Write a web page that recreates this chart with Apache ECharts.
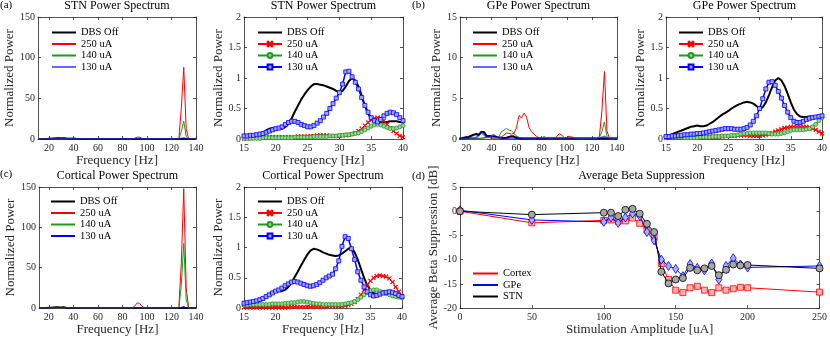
<!DOCTYPE html>
<html>
<head>
<meta charset="utf-8">
<script src="https://cdn.jsdelivr.net/npm/echarts@6/dist/echarts.min.js"></script>
<style>
  html, body { margin: 0; padding: 0; background: #fff; }
  #chart { width: 830px; height: 337px; }
</style>
</head>
<body>
<div id="chart"></div>
<script>
// ---------- data ----------
// wide spectra, 12..140 Hz every 2 Hz
var wideFreq = [12, 14, 16, 18, 20, 22, 24, 26, 28, 30, 32, 34, 36, 38, 40, 42, 44, 46, 48, 50,
  52, 54, 56, 58, 60, 62, 64, 66, 68, 70, 72, 74, 76, 78, 80, 82, 84, 86, 88, 90,
  92, 94, 96, 98, 100, 102, 104, 106, 108, 110, 112, 114, 116, 118, 120, 122, 124, 126, 128, 130,
  132, 134, 136, 138, 140];

// zoomed spectra, 15..40 Hz every 0.5 Hz
var betaFreq = [15, 15.5, 16, 16.5, 17, 17.5, 18, 18.5, 19, 19.5, 20, 20.5, 21, 21.5, 22, 22.5, 23, 23.5, 24, 24.5,
  25, 25.5, 26, 26.5, 27, 27.5, 28, 28.5, 29, 29.5, 30, 30.5, 31, 31.5, 32, 32.5, 33, 33.5, 34, 34.5,
  35, 35.5, 36, 36.5, 37, 37.5, 38, 38.5, 39, 39.5, 40];

// (a) STN wide
var stnWideOff = [0.03, 0.04, 0.05, 0.11, 0.18, 0.25, 0.65, 0.9, 0.86, 0.77,
  1.0, 0.55, 0.28, 0.29, 0.27, 0.2, 0.15, 0.12, 0.1, 0.1,
  0.08, 0.08, 0.07, 0.07, 0.06, 0.06, 0.05, 0.05, 0.05, 0.05,
  0.05, 0.05, 0.05, 0.05, 0.05, 0.05, 0.05, 0.05, 0.05, 0.05,
  0.05, 0.05, 0.05, 0.05, 0.05, 0.05, 0.05, 0.05, 0.05, 0.05,
  0.05, 0.05, 0.05, 0.05, 0.05, 0.05, 0.05, 0.05, 0.05, 0.05,
  0.05, 0.05, 0.05, 0.05, 0.05];
var stnWide250 = [0.01, 0.01, 0.01, 0.02, 0.03, 0.03, 0.04, 0.05, 0.06, 0.05,
  0.08, 0.22, 0.35, 0.18, 0.03, 0.05, 0.05, 0.05, 0.05, 0.05,
  0.1, 0.1, 0.1, 0.1, 0.1, 0.1, 0.1, 0.1, 0.1, 0.1,
  0.1, 0.1, 0.1, 0.1, 0.1, 0.1, 0.1, 0.1, 0.2, 1.0,
  2.3, 2.2, 0.8, 0.2, 0.1, 0.1, 0.1, 0.1, 0.1, 0.1,
  0.1, 0.1, 0.1, 0.1, 0.1, 0.1, 0.1, 0.3, 38, 88,
  12, 0.2, 0.1, 0.1, 0.1];
var stnWide140 = [0.01, 0.01, 0.01, 0.01, 0.02, 0.02, 0.03, 0.04, 0.04, 0.06,
  0.08, 0.15, 0.24, 0.17, 0.22, 0.1, 0.05, 0.05, 0.05, 0.05,
  0.05, 0.05, 0.05, 0.05, 0.05, 0.05, 0.05, 0.05, 0.05, 0.05,
  0.05, 0.05, 0.05, 0.05, 0.05, 0.05, 0.05, 0.05, 0.05, 0.05,
  0.05, 0.05, 0.05, 0.05, 0.05, 0.05, 0.05, 0.05, 0.05, 0.05,
  0.05, 0.05, 0.05, 0.05, 0.05, 0.05, 0.05, 0.2, 9, 22,
  3, 0.1, 0.05, 0.05, 0.05];
var stnWide130 = [0.04, 0.05, 0.06, 0.09, 0.17, 0.27, 0.24, 0.22, 0.42, 0.76,
  1.02, 0.55, 0.28, 0.44, 0.3, 0.2, 0.15, 0.12, 0.1, 0.1,
  0.08, 0.08, 0.08, 0.08, 0.08, 0.08, 0.08, 0.08, 0.08, 0.08,
  0.06, 0.06, 0.06, 0.06, 0.06, 0.06, 0.06, 0.06, 0.06, 0.06,
  0.06, 0.06, 0.06, 0.06, 0.06, 0.06, 0.06, 0.06, 0.06, 0.06,
  0.05, 0.05, 0.05, 0.05, 0.05, 0.05, 0.05, 0.1, 0.5, 1.0,
  0.3, 0.05, 0.05, 0.05, 0.05];

// (a) STN beta band
var stnOff = [0.04, 0.04, 0.05, 0.05, 0.06, 0.08, 0.11, 0.14, 0.17, 0.18, 0.18, 0.17, 0.17, 0.2, 0.25, 0.34, 0.45, 0.55, 0.65, 0.73,
  0.8, 0.86, 0.9, 0.9, 0.89, 0.88, 0.86, 0.84, 0.82, 0.79, 0.77, 0.79, 0.86, 0.95, 1.0, 0.96, 0.86, 0.71, 0.55, 0.42,
  0.33, 0.29, 0.28, 0.27, 0.27, 0.28, 0.29, 0.29, 0.29, 0.28, 0.27];
var stn250 = [0.01, 0.01, 0.01, 0.02, 0.02, 0.02, 0.02, 0.02, 0.03, 0.03, 0.03, 0.03, 0.03, 0.03, 0.03, 0.03, 0.03, 0.04, 0.04, 0.04,
  0.04, 0.05, 0.05, 0.06, 0.06, 0.06, 0.06, 0.05, 0.05, 0.05, 0.05, 0.06, 0.06, 0.07, 0.08, 0.1, 0.13, 0.17, 0.22, 0.27,
  0.31, 0.34, 0.35, 0.34, 0.3, 0.24, 0.18, 0.13, 0.09, 0.05, 0.03];
var stn140 = [0.01, 0.01, 0.01, 0.01, 0.01, 0.01, 0.02, 0.02, 0.02, 0.02, 0.02, 0.02, 0.02, 0.02, 0.02, 0.02, 0.03, 0.03, 0.03, 0.03,
  0.03, 0.03, 0.04, 0.04, 0.04, 0.04, 0.04, 0.05, 0.05, 0.05, 0.06, 0.06, 0.07, 0.07, 0.08, 0.09, 0.1, 0.12, 0.15, 0.18,
  0.21, 0.23, 0.24, 0.23, 0.21, 0.19, 0.17, 0.17, 0.18, 0.2, 0.22];
var stn130 = [0.05, 0.05, 0.06, 0.06, 0.07, 0.08, 0.09, 0.11, 0.13, 0.15, 0.17, 0.18, 0.2, 0.24, 0.27, 0.29, 0.29, 0.27, 0.24, 0.22,
  0.2, 0.2, 0.22, 0.26, 0.3, 0.36, 0.42, 0.5, 0.58, 0.67, 0.76, 0.9, 1.1, 1.11, 1.02, 0.93, 0.82, 0.68, 0.55, 0.44,
  0.35, 0.3, 0.28, 0.32, 0.38, 0.42, 0.44, 0.43, 0.4, 0.35, 0.3];

// (b) GPe wide
var gpeWideOff = [0.04, 0.04, 0.08, 0.16, 0.22, 0.25, 0.4, 0.53, 0.61, 0.5,
  0.85, 0.87, 0.41, 0.37, 0.32, 0.3, 0.25, 0.2, 0.15, 0.12,
  0.15, 0.25, 0.35, 0.3, 0.12, 0.08, 0.06, 0.05, 0.05, 0.05,
  0.05, 0.05, 0.05, 0.05, 0.05, 0.05, 0.05, 0.05, 0.05, 0.05,
  0.05, 0.05, 0.05, 0.05, 0.05, 0.05, 0.05, 0.05, 0.05, 0.05,
  0.05, 0.05, 0.05, 0.05, 0.05, 0.05, 0.05, 0.05, 0.05, 0.05,
  0.05, 0.05, 0.05, 0.05, 0.05];
var gpeWide250 = [0.02, 0.02, 0.02, 0.03, 0.03, 0.04, 0.04, 0.05, 0.06, 0.05,
  0.1, 0.18, 0.2, 0.19, 0.09, 0.1, 0.12, 0.15, 0.25, 0.5,
  0.75, 0.7, 0.6, 0.7, 1.4, 2.9, 2.6, 3.2, 2.7, 1.4,
  0.9, 0.6, 0.3, 0.15, 0.1, 0.1, 0.1, 0.1, 0.1, 0.1,
  0.3, 0.65, 0.5, 0.15, 0.2, 0.35, 0.2, 0.1, 0.08, 0.08,
  0.08, 0.08, 0.08, 0.08, 0.08, 0.08, 0.08, 0.3, 3.5, 8.3,
  1.0, 0.1, 0.08, 0.08, 0.08];
var gpeWide140 = [0.03, 0.03, 0.03, 0.02, 0.02, 0.03, 0.05, 0.06, 0.09, 0.1,
  0.08, 0.1, 0.15, 0.17, 0.35, 0.1, 0.15, 0.3, 0.9, 1.1,
  1.3, 1.1, 1.0, 0.7, 0.35, 0.2, 0.15, 0.1, 0.1, 0.1,
  0.1, 0.1, 0.15, 0.2, 0.15, 0.3, 0.15, 0.1, 0.1, 0.1,
  0.1, 0.1, 0.1, 0.1, 0.1, 0.15, 0.25, 0.2, 0.1, 0.1,
  0.05, 0.05, 0.05, 0.05, 0.05, 0.05, 0.05, 0.2, 0.9, 2.1,
  0.3, 0.05, 0.05, 0.05, 0.05];
var gpeWide130 = [0.03, 0.04, 0.05, 0.07, 0.09, 0.12, 0.16, 0.16, 0.19, 0.5,
  0.94, 0.55, 0.27, 0.34, 0.38, 0.5, 0.25, 0.12, 0.1, 0.1,
  0.1, 0.12, 0.1, 0.08, 0.06, 0.05, 0.05, 0.05, 0.05, 0.05,
  0.05, 0.05, 0.05, 0.05, 0.05, 0.05, 0.05, 0.05, 0.05, 0.05,
  0.05, 0.05, 0.05, 0.05, 0.05, 0.05, 0.05, 0.05, 0.05, 0.05,
  0.05, 0.05, 0.05, 0.05, 0.05, 0.05, 0.05, 0.08, 0.2, 0.3,
  0.08, 0.05, 0.05, 0.05, 0.05];

// (b) GPe beta band
var gpeOff = [0.05, 0.06, 0.08, 0.1, 0.12, 0.14, 0.16, 0.18, 0.2, 0.21, 0.22, 0.21, 0.21, 0.22, 0.25, 0.28, 0.32, 0.36, 0.4, 0.43,
  0.46, 0.5, 0.53, 0.56, 0.58, 0.6, 0.61, 0.6, 0.58, 0.54, 0.5, 0.52, 0.6, 0.72, 0.85, 0.96, 1.0, 0.96, 0.87, 0.74,
  0.6, 0.48, 0.41, 0.37, 0.36, 0.36, 0.37, 0.37, 0.37, 0.37, 0.37];
var gpe250 = [0.02, 0.02, 0.02, 0.02, 0.03, 0.03, 0.03, 0.03, 0.03, 0.03, 0.03, 0.03, 0.03, 0.03, 0.04, 0.04, 0.04, 0.04, 0.04, 0.05,
  0.05, 0.05, 0.05, 0.06, 0.06, 0.06, 0.06, 0.05, 0.05, 0.05, 0.05, 0.06, 0.07, 0.08, 0.1, 0.12, 0.14, 0.16, 0.18, 0.19,
  0.2, 0.2, 0.2, 0.2, 0.2, 0.2, 0.19, 0.17, 0.15, 0.12, 0.09];
var gpe140 = [0.03, 0.03, 0.03, 0.03, 0.03, 0.03, 0.02, 0.02, 0.02, 0.02, 0.02, 0.03, 0.03, 0.03, 0.03, 0.04, 0.04, 0.04, 0.05, 0.05,
  0.05, 0.06, 0.06, 0.07, 0.08, 0.09, 0.09, 0.1, 0.1, 0.1, 0.1, 0.1, 0.1, 0.09, 0.08, 0.08, 0.08, 0.09, 0.1, 0.12,
  0.14, 0.15, 0.15, 0.15, 0.15, 0.16, 0.17, 0.2, 0.24, 0.3, 0.35];
var gpe130 = [0.04, 0.04, 0.05, 0.05, 0.06, 0.06, 0.07, 0.07, 0.08, 0.08, 0.09, 0.09, 0.1, 0.11, 0.12, 0.13, 0.14, 0.15, 0.16, 0.17,
  0.17, 0.17, 0.16, 0.16, 0.16, 0.17, 0.19, 0.23, 0.29, 0.38, 0.5, 0.66, 0.82, 0.93, 0.94, 0.88, 0.78, 0.67, 0.55, 0.44,
  0.35, 0.29, 0.27, 0.27, 0.29, 0.32, 0.34, 0.35, 0.36, 0.37, 0.38];

// (c) Cortex wide
var ctxWideOff = [0.03, 0.04, 0.07, 0.15, 0.28, 0.35, 0.7, 0.98, 0.9, 0.87,
  1.0, 0.5, 0.23, 0.26, 0.17, 0.12, 0.1, 0.08, 0.07, 0.06,
  0.05, 0.05, 0.05, 0.05, 0.05, 0.05, 0.05, 0.05, 0.05, 0.05,
  0.05, 0.05, 0.05, 0.05, 0.05, 0.05, 0.05, 0.05, 0.05, 0.05,
  0.05, 0.05, 0.05, 0.05, 0.05, 0.05, 0.05, 0.05, 0.05, 0.05,
  0.05, 0.05, 0.05, 0.05, 0.05, 0.05, 0.05, 0.05, 0.05, 0.05,
  0.05, 0.05, 0.05, 0.05, 0.05];
var ctxWide250 = [0.01, 0.01, 0.01, 0.01, 0.01, 0.01, 0.02, 0.02, 0.02, 0.03,
  0.07, 0.3, 0.53, 0.49, 0.2, 0.1, 0.1, 0.1, 0.1, 0.1,
  0.1, 0.1, 0.1, 0.1, 0.1, 0.1, 0.1, 0.1, 0.1, 0.1,
  0.1, 0.1, 0.1, 0.1, 0.1, 0.1, 0.1, 0.1, 0.3, 2.5,
  6.3, 6.0, 2.0, 0.3, 0.1, 0.1, 0.1, 0.1, 0.1, 0.1,
  0.1, 0.1, 0.1, 0.1, 0.1, 0.1, 0.1, 0.5, 55, 148,
  25, 0.3, 0.1, 0.1, 0.1];
var ctxWide140 = [0.05, 0.06, 0.06, 0.06, 0.07, 0.08, 0.11, 0.08, 0.06, 0.06,
  0.09, 0.22, 0.3, 0.22, 0.17, 0.1, 0.08, 0.06, 0.05, 0.05,
  0.05, 0.05, 0.05, 0.05, 0.05, 0.05, 0.05, 0.05, 0.05, 0.05,
  0.05, 0.05, 0.05, 0.05, 0.05, 0.05, 0.05, 0.05, 0.05, 0.05,
  0.05, 0.05, 0.05, 0.05, 0.05, 0.05, 0.05, 0.05, 0.05, 0.05,
  0.05, 0.05, 0.05, 0.05, 0.05, 0.05, 0.05, 0.3, 28, 80,
  10, 0.1, 0.05, 0.05, 0.05];
var ctxWide130 = [0.07, 0.08, 0.1, 0.16, 0.28, 0.4, 0.41, 0.37, 0.5, 0.78,
  0.98, 0.35, 0.21, 0.27, 0.19, 0.15, 0.1, 0.08, 0.07, 0.06,
  0.05, 0.05, 0.05, 0.05, 0.05, 0.05, 0.05, 0.05, 0.05, 0.05,
  0.05, 0.05, 0.05, 0.05, 0.05, 0.05, 0.05, 0.05, 0.05, 0.05,
  0.05, 0.05, 0.05, 0.05, 0.05, 0.05, 0.05, 0.05, 0.05, 0.05,
  0.05, 0.05, 0.05, 0.05, 0.05, 0.05, 0.05, 0.2, 1.0, 1.8,
  0.4, 0.05, 0.05, 0.05, 0.05];

// (c) Cortex beta band
var ctxOff = [0.05, 0.06, 0.07, 0.08, 0.1, 0.12, 0.15, 0.19, 0.23, 0.27, 0.28, 0.28, 0.28, 0.3, 0.35, 0.42, 0.51, 0.6, 0.7, 0.79,
  0.88, 0.95, 0.98, 0.97, 0.95, 0.92, 0.9, 0.88, 0.87, 0.86, 0.87, 0.9, 0.94, 0.98, 1.0, 0.92, 0.8, 0.65, 0.5, 0.38,
  0.3, 0.25, 0.23, 0.23, 0.24, 0.25, 0.26, 0.25, 0.22, 0.19, 0.17];
var ctx250 = [0.01, 0.01, 0.01, 0.01, 0.01, 0.01, 0.01, 0.01, 0.01, 0.01, 0.01, 0.01, 0.01, 0.01, 0.01, 0.02, 0.02, 0.02, 0.02, 0.02,
  0.02, 0.02, 0.02, 0.02, 0.02, 0.02, 0.02, 0.03, 0.03, 0.03, 0.03, 0.03, 0.04, 0.05, 0.07, 0.1, 0.15, 0.22, 0.3, 0.38,
  0.45, 0.5, 0.53, 0.54, 0.53, 0.52, 0.49, 0.43, 0.35, 0.27, 0.2];
var ctx140 = [0.05, 0.05, 0.06, 0.06, 0.06, 0.06, 0.06, 0.06, 0.06, 0.07, 0.07, 0.07, 0.07, 0.08, 0.08, 0.09, 0.09, 0.1, 0.11, 0.11,
  0.1, 0.09, 0.08, 0.07, 0.07, 0.06, 0.06, 0.06, 0.06, 0.06, 0.06, 0.06, 0.07, 0.08, 0.09, 0.11, 0.14, 0.18, 0.22, 0.26,
  0.29, 0.3, 0.3, 0.28, 0.26, 0.24, 0.22, 0.2, 0.19, 0.18, 0.17];
var ctx130 = [0.08, 0.09, 0.1, 0.11, 0.12, 0.14, 0.16, 0.19, 0.22, 0.25, 0.28, 0.3, 0.33, 0.37, 0.4, 0.43, 0.44, 0.43, 0.41, 0.39,
  0.37, 0.36, 0.37, 0.39, 0.42, 0.46, 0.5, 0.53, 0.56, 0.65, 0.78, 1.02, 1.18, 1.15, 0.98, 0.8, 0.6, 0.46, 0.35, 0.27,
  0.22, 0.2, 0.21, 0.23, 0.25, 0.26, 0.27, 0.26, 0.24, 0.21, 0.19];

// (d) average beta suppression [dB]
var ampX = [0, 50, 100, 105, 110, 115, 120, 125, 130, 135, 140, 145, 150, 155, 160, 165, 170, 175, 180, 185, 190, 195, 200, 250];
var supCortex = [0, -2.4, -1.9, -1.8, -2.1, -2.0, -1.4, -2.5, -3.9, -5.3, -10.8, -14.1, -16.3, -16.8, -15.8, -15.5, -16.3, -16.8, -15.8, -16.3, -16.0, -15.7, -15.8, -16.7];
var supGPe = [0.2, -1.8, -2.2, -1.3, -2.4, -1.3, -0.5, -1.0, -4.3, -6.0, -10.0, -11.3, -11.9, -13.4, -10.9, -11.7, -12.2, -10.8, -14.1, -11.3, -9.7, -11.0, -11.6, -11.3];
var supSTN = [0, -0.7, -0.3, -0.3, -1.0, 0.3, 0.5, -0.5, -2.6, -4.3, -12.5, -14.9, -14.1, -13.8, -11.7, -12.2, -11.8, -11.3, -13.2, -12.1, -11.0, -11.2, -11.1, -11.8];

var legendNames = ['DBS Off', '250 uA', '140 uA', '130 uA'];
var wideTicks = [20, 40, 60, 80, 100, 120, 140];

// ---------- styling ----------
var FONT = '"Liberation Serif", "DejaVu Serif", serif';
var INK = '#262626';
var RED = '#ff0000', GREEN = '#1e9a1e', BLUE = '#0000ff';
var CROSS = 'path://M0,1L1,0L5,4L9,0L10,1L6,5L10,9L9,10L5,6L1,10L0,9L4,5Z';

var grids = [], xAxes = [], yAxes = [], series = [], legends = [], titles = [];

function zip(xs, ys) {
  return xs.map(function (x, i) { return [x, ys[i]]; });
}

function addAxes(gi, p) {
  var tickLine = { color: INK, width: 0.8 };
  var label = { fontFamily: FONT, fontSize: 10, color: INK };
  var nameStyle = { fontFamily: FONT, fontSize: 13, color: INK };
  var xTick = { inside: true, length: 3, lineStyle: tickLine };
  var xLabel = Object.assign({ margin: 4 }, label);
  if (p.xTicks) {
    xTick.customValues = p.xTicks;
    xLabel.customValues = p.xTicks;
  }
  var xBase = { gridIndex: gi, type: 'value', min: p.xMin, max: p.xMax, splitLine: { show: false } };
  if (!p.xTicks) xBase.interval = p.xInterval;
  var yBase = { gridIndex: gi, type: 'value', min: p.yMin, max: p.yMax, interval: p.yInterval, splitLine: { show: false } };

  xAxes.push(Object.assign({}, xBase, {
    position: 'bottom',
    name: p.xName, nameLocation: 'middle', nameGap: p.xGap, nameTextStyle: nameStyle,
    axisLine: { onZero: false, lineStyle: tickLine },
    axisTick: xTick, axisLabel: xLabel
  }));
  xAxes.push(Object.assign({}, xBase, {
    position: 'top',
    axisLine: { onZero: false, lineStyle: tickLine },
    axisTick: Object.assign({}, xTick), axisLabel: { show: false }
  }));
  yAxes.push(Object.assign({}, yBase, {
    position: 'left',
    name: p.yName, nameLocation: 'middle', nameGap: p.yGap, nameTextStyle: nameStyle,
    axisLine: { onZero: false, lineStyle: tickLine },
    axisTick: { inside: true, length: 3, lineStyle: tickLine },
    axisLabel: Object.assign({ margin: 3 }, label)
  }));
  yAxes.push(Object.assign({}, yBase, {
    position: 'right',
    axisLine: { onZero: false, lineStyle: tickLine },
    axisTick: { inside: true, length: 3, lineStyle: tickLine },
    axisLabel: { show: false }
  }));
}

function addPanel(p) {
  var gi = grids.length;
  grids.push({ left: p.box[0], top: p.box[1], width: p.box[2], height: p.box[3] });
  addAxes(gi, p);
  titles.push({
    text: p.title, left: p.box[0] + p.box[2] / 2, top: p.box[1] - 17, textAlign: 'center', padding: 0,
    textStyle: { fontFamily: FONT, fontSize: 12, fontWeight: 'normal', color: '#000' }
  });
  var items = [];
  p.lines.forEach(function (ln) {
    var nm = p.key + '|' + ln.name;
    // lines without markers get a plain line in the legend
    items.push(ln.symbol ? { name: nm } : { name: nm, itemStyle: { opacity: 0 } });
    series.push({
      type: 'line', name: nm, xAxisIndex: gi * 2, yAxisIndex: gi * 2,
      data: zip(ln.x, ln.y),
      symbol: ln.symbol || 'none', symbolSize: ln.symbolSize || 4, showAllSymbol: true,
      lineStyle: { color: ln.color, width: ln.width || 1, opacity: ln.opacity || 1 },
      itemStyle: { color: ln.fill || ln.color, borderColor: ln.color, borderWidth: 0.8 },
      z: ln.z || 2, animation: false
    });
  });
  legends.push(Object.assign({
    data: items, orient: 'vertical', left: p.legend[0], top: p.legend[1], padding: 0,
    itemWidth: 24, itemHeight: 6, itemGap: 0.5, selectedMode: false,
    formatter: function (n) { return n.split('|')[1]; },
    textStyle: { fontFamily: FONT, fontSize: 10.5, lineHeight: 10.5, color: '#000' }
  }, p.legendExtra || {}));
}

function widePanel(key, title, box, xMin, yMax, yInt, yGap, xGap, legend, vals, blueStyle) {
  addPanel({
    key: key, title: title, box: box, legend: legend,
    xMin: xMin, xMax: 140, xTicks: wideTicks, yMin: 0, yMax: yMax, yInterval: yInt,
    xName: 'Frequency [Hz]', yName: 'Normalized Power', xGap: xGap, yGap: yGap,
    lines: [
      { name: legendNames[0], x: wideFreq, y: vals[0], color: '#000', width: 2 },
      { name: legendNames[1], x: wideFreq, y: vals[1], color: RED, width: 1 },
      { name: legendNames[2], x: wideFreq, y: vals[2], color: GREEN, width: 1 },
      { name: legendNames[3], x: wideFreq, y: vals[3], color: BLUE, width: blueStyle[0], opacity: blueStyle[1] }
    ]
  });
}

function betaPanel(key, title, box, yGap, xGap, legend, vals) {
  addPanel({
    key: key, title: title, box: box, legend: legend,
    xMin: 15, xMax: 40, xInterval: 5, yMin: 0, yMax: 2, yInterval: 0.5,
    xName: 'Frequency [Hz]', yName: 'Normalized Power', xGap: xGap, yGap: yGap,
    lines: [
      { name: legendNames[0], x: betaFreq, y: vals[0], color: '#000', width: 2 },
      { name: legendNames[1], x: betaFreq, y: vals[1], color: RED, width: 1, symbol: CROSS, symbolSize: 4 },
      { name: legendNames[2], x: betaFreq, y: vals[2], color: GREEN, width: 1, symbol: 'circle', symbolSize: 4, fill: '#9bd49b' },
      { name: legendNames[3], x: betaFreq, y: vals[3], color: BLUE, width: 1.5, symbol: 'rect', symbolSize: 4, fill: '#a4a4ff', z: 3 }
    ]
  });
}

widePanel('a1', 'STN Power Spectrum', [38, 17, 158, 122], 11, 150, 50, 21, 15, [51, 27],
  [stnWideOff, stnWide250, stnWide140, stnWide130], [2, 0.6]);
betaPanel('a2', 'STN Power Spectrum', [244, 17, 159, 122], 19, 15, [257, 27],
  [stnOff, stn250, stn140, stn130]);
widePanel('b1', 'GPe Power Spectrum', [460, 17, 157, 122], 15, 15, 5, 15, 15, [472, 27],
  [gpeWideOff, gpeWide250, gpeWide140, gpeWide130], [2, 0.6]);
betaPanel('b2', 'GPe Power Spectrum', [666, 17, 157, 122], 17, 15, [678, 27],
  [gpeOff, gpe250, gpe140, gpe130]);
widePanel('c1', 'Cortical Power Spectrum', [39, 187, 157, 122], 12, 150, 50, 22, 14, [50, 196],
  [ctxWideOff, ctxWide250, ctxWide140, ctxWide130], [1, 1]);
betaPanel('c2', 'Cortical Power Spectrum', [244, 187, 158, 122], 19, 14, [257, 196],
  [ctxOff, ctx250, ctx140, ctx130]);

addPanel({
  key: 'd', title: 'Average Beta Suppression', box: [460, 187, 363, 122], legend: [472, 268],
  xMin: 0, xMax: 250, xInterval: 50, yMin: -20, yMax: 5, yInterval: 5,
  xName: 'Stimulation Amplitude [uA]', yName: 'Average Beta Suppression [dB]', xGap: 12, yGap: 15,
  legendExtra: { itemStyle: { opacity: 0 }, itemWidth: 25 },
  lines: [
    { name: 'Cortex', x: ampX, y: supCortex, color: RED, symbol: 'rect', symbolSize: 6, fill: '#ffb0b0', z: 2 },
    { name: 'GPe', x: ampX, y: supGPe, color: BLUE, symbol: 'diamond', symbolSize: [6, 9], fill: '#a8b0ff', z: 3 },
    { name: 'STN', x: ampX, y: supSTN, color: '#000', symbol: 'circle', symbolSize: 7, fill: '#a6a6a6', z: 4 }
  ]
});

// panel letters
[['(a)', 0, 0], ['(b)', 412, 0], ['(c)', 0, 169], ['(d)', 412, 171]].forEach(function (t) {
  titles.push({
    text: t[0], left: t[1], top: t[2], padding: 0,
    textStyle: { fontFamily: FONT, fontSize: 11, fontWeight: 'normal', color: '#000' }
  });
});

var chart = echarts.init(document.getElementById('chart'));
chart.setOption({
  animation: false,
  backgroundColor: '#fff',
  title: titles,
  grid: grids,
  xAxis: xAxes,
  yAxis: yAxes,
  legend: legends,
  series: series
});
</script>
</body>
</html>
